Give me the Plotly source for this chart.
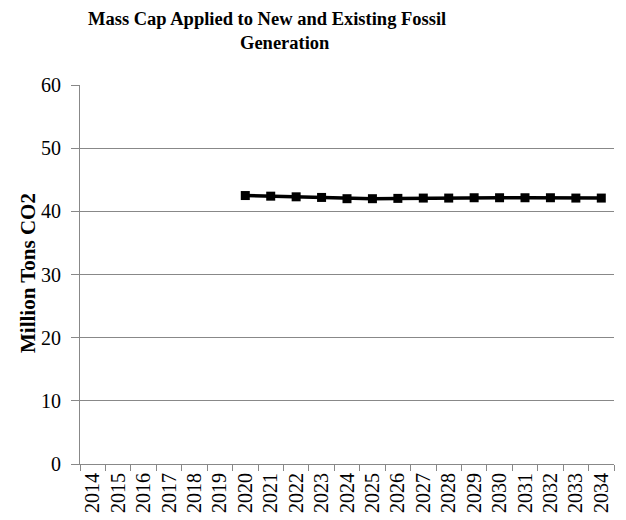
import plotly.graph_objects as go

years = [str(y) for y in range(2014, 2035)]
cap_years = [str(y) for y in range(2020, 2035)]
cap_values = [42.5, 42.4, 42.3, 42.2, 42.0, 42.0, 42.05, 42.1, 42.1, 42.15, 42.15, 42.15, 42.15, 42.1, 42.1]

fig = go.Figure()
fig.add_trace(go.Scatter(
    x=cap_years, y=cap_values, mode="lines+markers",
    line=dict(color="black", width=3.5),
    marker=dict(symbol="square", size=9, color="black"),
    showlegend=False,
))

font = "Liberation Serif, Times New Roman, serif"
# page body has an 8px margin, so the figure is drawn 8px smaller and offset
W, H = 618, 512
L, R, T, B = 72, 12, 77, 56
pw, ph = W - L - R, H - T - B

fig.update_layout(
    width=W, height=H,
    paper_bgcolor="white", plot_bgcolor="white",
    margin=dict(l=L, r=R, t=T, b=B, autoexpand=False),
    font=dict(family=font, color="black", size=19),
    xaxis=dict(type="category", categoryorder="array", categoryarray=years,
               tickvals=years, ticktext=years, range=[-0.5, 20.5], automargin=False,
               tickangle=-90, tickson="boundaries", ticks="outside", ticklen=6,
               tickcolor="#888", showline=True, linecolor="#888", linewidth=1,
               showgrid=False, tickfont=dict(size=20)),
    yaxis=dict(range=[0, 60], tickvals=[0, 10, 20, 30, 40, 50, 60], automargin=False,
               ticks="outside", ticklen=8, tickcolor="#888", ticklabelstandoff=6,
               showline=True, linecolor="#888", linewidth=1,
               showgrid=True, gridcolor="#888", gridwidth=1, zeroline=False,
               tickfont=dict(size=20)),
)
fig.add_annotation(
    text="<b>Mass Cap Applied to New and Existing Fossil</b>",
    xref="paper", yref="paper", x=(267 - 8 - L) / pw, y=1 + (T - 11) / ph,
    showarrow=False, font=dict(size=18.5), xanchor="center", yanchor="middle",
)
fig.add_annotation(
    text="<b>Generation</b>",
    xref="paper", yref="paper", x=(285 - 8 - L) / pw, y=1 + (T - 35) / ph,
    showarrow=False, font=dict(size=18.5), xanchor="center", yanchor="middle",
)
fig.add_annotation(
    text="<b>Million Tons CO2</b>",
    xref="paper", yref="paper", x=(20 - L) / pw, y=(H - B - 265) / ph,
    showarrow=False, font=dict(size=21), textangle=-90,
    xanchor="center", yanchor="middle",
)
fig.write_html("out.html")
